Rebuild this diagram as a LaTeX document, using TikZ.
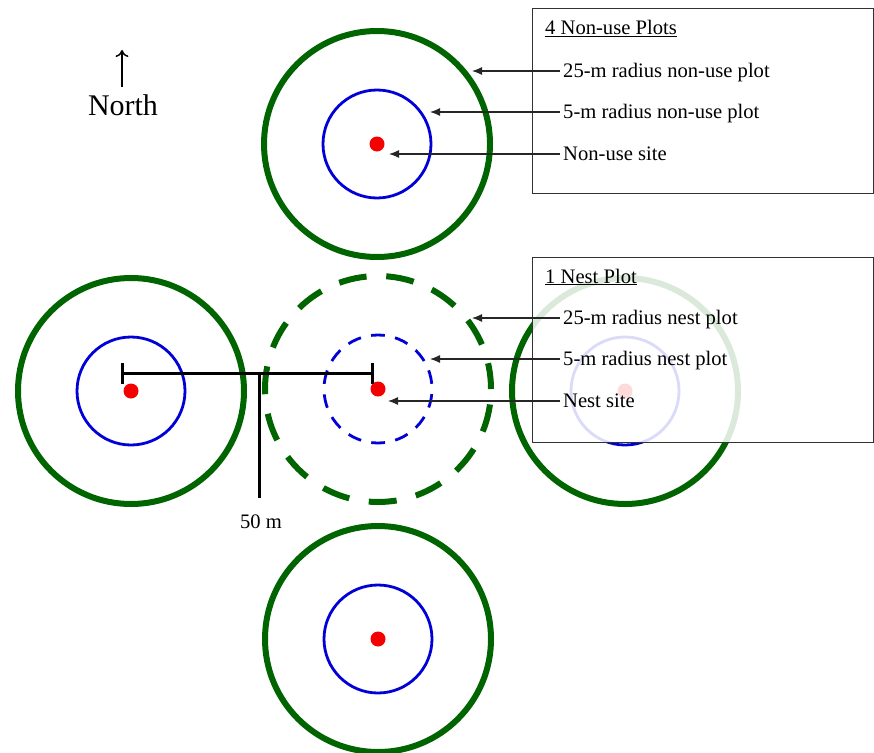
\documentclass[tikz,border=0pt]{standalone}
\usepackage{fontspec}
\setmainfont{Liberation Serif}
\usetikzlibrary{arrows.meta}
\definecolor{pgreen}{RGB}{0,100,0}
\definecolor{pblue}{RGB}{0,0,215}
\definecolor{pred}{RGB}{245,0,0}
\definecolor{boxline}{RGB}{50,50,50}
\begin{document}
\begin{tikzpicture}[x=1pt,y=-1pt,
  big/.style={circle,draw=pgreen,line width=6pt,minimum size=226pt,inner sep=0pt},
  bigdash/.style={big,dash pattern=on 28pt off 19.75pt,dash phase=2pt},
  small/.style={circle,draw=pblue,line width=2.8pt,minimum size=108pt,inner sep=0pt},
  smalldash/.style={small,dash pattern=on 13.8pt off 10.44pt,dash phase=19pt},
  site/.style={circle,fill=pred,minimum size=15pt,inner sep=0pt},
  legbox/.style={draw=boxline,line width=1.3pt,fill=white,fill opacity=0.86,
    minimum width=341pt,minimum height=185pt,inner sep=0pt,anchor=north west},
  legtext/.style={font=\fontsize{20.6}{24}\selectfont,anchor=west,inner sep=0pt,
    inner xsep=3pt,text height=15pt,text depth=3pt},
  pointer/.style={draw=black!85,line width=1.2pt,-{Latex[length=10pt,width=8pt]}},
  scalebar/.style={draw=black,line width=3pt}
]
\useasboundingbox (0,0) rectangle (874,752);

% top non-use plot
\node[big] (tg) at (377,144) {};
\node[small] (tb) at (377,144) {};
\node[site] (tr) at (377,144) {};
% left non-use plot
\node[big] (lg) at (131,391) {};
\node[small] (lb) at (131,391) {};
\node[site] (lr) at (131,391) {};
% bottom non-use plot
\node[big] (bg) at (378,639) {};
\node[small] (bb) at (378,639) {};
\node[site] (br) at (378,639) {};
% right non-use plot
\node[big] (rg) at (625,391) {};
\node[small] (rb) at (625,391) {};
\node[site] (rr) at (625,391) {};
% nest plot
\node[bigdash] (ng) at (378,389) {};
\node[smalldash] (nb) at (378,389) {};
\node[site] (nr) at (378,389) {};

% scale bar
\coordinate (sl) at (122,373);
\coordinate (sr) at (372,373);
\coordinate (sm) at (259,373);
\coordinate (sb) at (259,498);
\coordinate (slt) at (122,363);
\coordinate (slb) at (122,384);
\coordinate (srt) at (372,363);
\coordinate (srb) at (372,384);
\draw[scalebar] (sl) -- (sr);
\draw[scalebar] (slt) -- (slb);
\draw[scalebar] (srt) -- (srb);
\draw[scalebar] (sm) -- (sb);
\node[font=\fontsize{20.6}{24}\selectfont,anchor=base,inner sep=0pt] (lab50) at (261,528) {50 m};

% north
\node[font=\fontsize{30}{34}\selectfont,anchor=base,inner sep=0pt] (north) at (123,115) {North};
\coordinate (nbot) at (122,87);
\coordinate (ntop) at (122,50);
\draw[line width=1.5pt,-{To[length=7pt,width=13pt]}] (nbot) -- (ntop);

% legend boxes
\node[legbox] (box1) at (532,8) {};
\node[legbox] (box2) at (532,257) {};

\node[legtext] (h1) at (542,29) {\underline{4 Non-use Plots}};
\node[legtext] (a1) at (560,71) {25-m radius non-use plot};
\node[legtext] (a2) at (560,112) {5-m radius non-use plot};
\node[legtext] (a3) at (560,154) {Non-use site};

\node[legtext] (h2) at (542,277) {\underline{1 Nest Plot}};
\node[legtext] (b1) at (560,318) {25-m radius nest plot};
\node[legtext] (b2) at (560,359) {5-m radius nest plot};
\node[legtext] (b3) at (560,401) {Nest site};

\coordinate (ta1) at (472,71);
\coordinate (ta2) at (430,112);
\coordinate (ta3) at (389,154);
\coordinate (tb1) at (472,318);
\coordinate (tb2) at (430,359);
\coordinate (tb3) at (388,401);

\draw[pointer] (a1.west) -- (ta1);
\draw[pointer] (a2.west) -- (ta2);
\draw[pointer] (a3.west) -- (ta3);
\draw[pointer] (b1.west) -- (tb1);
\draw[pointer] (b2.west) -- (tb2);
\draw[pointer] (b3.west) -- (tb3);
\end{tikzpicture}
\end{document}
